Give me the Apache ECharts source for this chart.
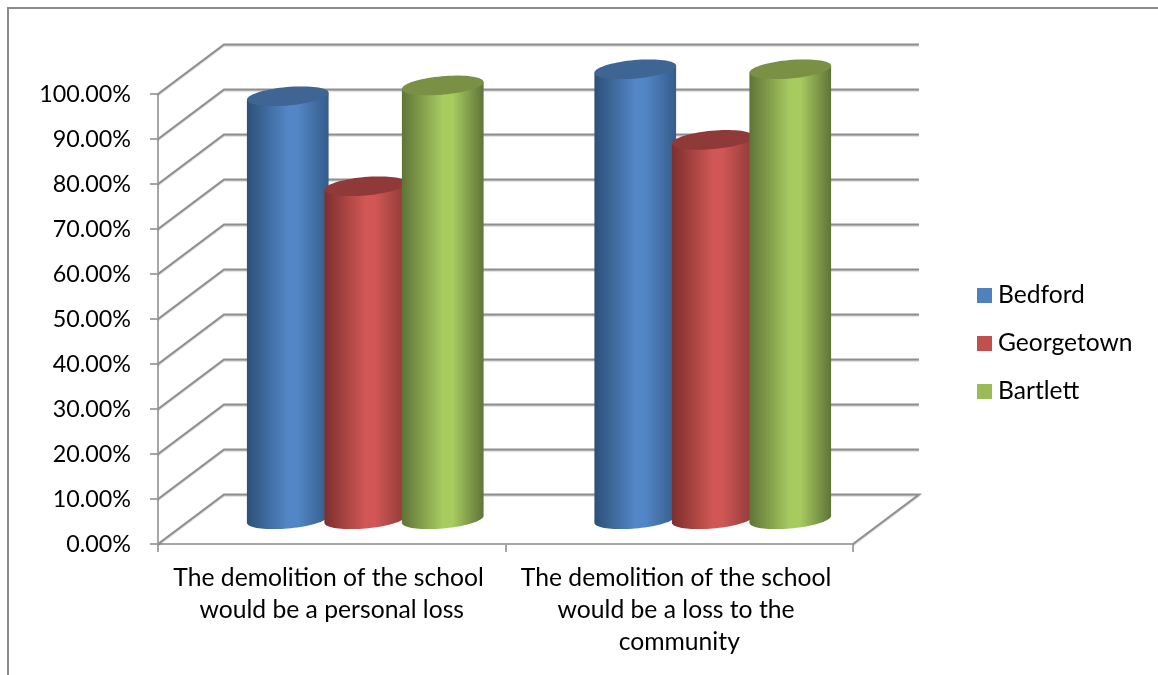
<!DOCTYPE html>
<html>
<head>
<meta charset="utf-8">
<style>
  html, body { margin: 0; padding: 0; background: #fff; }
  #chart { width: 1158px; height: 675px; }
</style>
<script src="https://cdn.jsdelivr.net/npm/echarts@6/dist/echarts.min.js"></script>
</head>
<body>
<div id="chart"></div>
<script>
// Survey responses by town
const categories = [
  'The demolition of the school would be a personal loss',
  'The demolition of the school would be a loss to the community'
];
const bedford = [0.94, 1.0];
const georgetown = [0.74, 0.843];
const bartlett = [0.964, 1.0];
const gridValues = [0, 0.1, 0.2, 0.3, 0.4, 0.5, 0.6, 0.7, 0.8, 0.9, 1.0];

const FONT = 'Lato, "Open Sans", sans-serif';
const LINE = '#8f8f8f';

// Oblique projection: how far the back wall sits from the front plane
const DEPTH_X = 66;
const DEPTH_Y = -49.5;
// Cylinder proportions
const GROUP_STEP = 77.5;
const RX = 41;
const RY = 9.2;
const TILT = 5.1 * Math.PI / 180;

function ellipsePoint(cx, cy, t) {
  const c = Math.cos(t), s = Math.sin(t);
  return [
    cx + RX * c * Math.cos(TILT) + RY * s * Math.sin(TILT),
    cy - RX * c * Math.sin(TILT) + RY * s * Math.cos(TILT)
  ];
}

function shaded(edgeL, mid, edgeR) {
  return new echarts.graphic.LinearGradient(0, 0, 1, 0, [
    { offset: 0, color: edgeL },
    { offset: 0.5, color: mid },
    { offset: 0.62, color: mid },
    { offset: 1, color: edgeR }
  ]);
}

function cylinderRenderer(slot, body, lid) {
  return function (params, api) {
    const front = api.coord([api.value(0), api.value(1)]);
    const base = api.coord([api.value(0), 0]);
    const cx = front[0] + slot * GROUP_STEP + DEPTH_X / 2 + 0.5;
    const topY = front[1] + DEPTH_Y / 2;
    const baseY = base[1] + DEPTH_Y / 2;
    const t0 = Math.atan2(RY * Math.sin(TILT), RX * Math.cos(TILT));

    const outline = [];
    for (let i = 0; i <= 40; i++) {
      outline.push(ellipsePoint(cx, baseY, t0 + Math.PI * i / 40));
    }
    outline.push(ellipsePoint(cx, topY, t0 + Math.PI));
    outline.push(ellipsePoint(cx, topY, t0));

    const cap = [];
    for (let i = 0; i < 72; i++) {
      cap.push(ellipsePoint(cx, topY, Math.PI * 2 * i / 72));
    }
    return {
      type: 'group',
      children: [
        { type: 'polygon', shape: { points: outline }, style: { fill: body } },
        { type: 'polygon', shape: { points: cap }, style: { fill: lid } }
      ]
    };
  };
}

// Side wall, back wall and floor edges for one value level
function wallRenderer(params, api) {
  const value = api.value(0);
  const y = api.coord([0, value])[1];
  const left = params.coordSys.x;
  const right = left + params.coordSys.width;
  const points = [[left, y], [left + DEPTH_X, y + DEPTH_Y], [right + DEPTH_X, y + DEPTH_Y]];
  if (value === 0) points.push([right, y]);
  return {
    type: 'polyline',
    shape: { points: points },
    style: {
      fill: null,
      stroke: LINE,
      lineWidth: 2,
      shadowColor: 'rgba(0,0,0,0.22)',
      shadowBlur: 1,
      shadowOffsetY: 1
    }
  };
}

const chart = echarts.init(document.getElementById('chart'), null, { renderer: 'canvas' });

chart.setOption({
  animation: false,
  backgroundColor: '#ffffff',
  grid: { left: 158, top: 94, width: 695, height: 450, containLabel: false },
  xAxis: {
    type: 'category',
    data: categories,
    axisLine: { lineStyle: { color: '#a6a6a6', width: 2 } },
    axisTick: { show: true, length: 8, lineStyle: { color: '#a6a6a6', width: 2 } },
    axisLabel: {
      interval: 0,
      margin: 18,
      width: 330,
      overflow: 'break',
      lineHeight: 32,
      fontFamily: FONT,
      fontSize: 24.7,
      color: '#000000'
    }
  },
  yAxis: {
    type: 'value',
    min: 0,
    max: 1,
    interval: 0.1,
    splitLine: { show: false },
    axisLine: { show: true, lineStyle: { color: '#a6a6a6', width: 2 } },
    axisTick: { show: true, length: 8, lineStyle: { color: '#a6a6a6', width: 2 } },
    axisLabel: {
      margin: 27,
      fontFamily: FONT,
      fontSize: 23.3,
      color: '#000000',
      formatter: v => (v * 100).toFixed(2) + '%'
    }
  },
  legend: {
    orient: 'vertical',
    left: 977,
    top: 280.5,
    padding: 0,
    itemWidth: 15,
    itemHeight: 15,
    itemGap: 18,
    icon: 'rect',
    data: ['Bedford', 'Georgetown', 'Bartlett'],
    textStyle: { fontFamily: FONT, fontSize: 24.6, lineHeight: 30, color: '#000000', padding: [0, 0, 0, 1] }
  },
  series: [
    {
      name: 'walls',
      type: 'custom',
      silent: true,
      z: 1,
      renderItem: wallRenderer,
      encode: { y: 0 },
      data: gridValues.map(v => [v])
    },
    {
      name: 'Bedford',
      type: 'custom',
      z: 2,
      itemStyle: { color: '#4F81BD' },
      renderItem: cylinderRenderer(-1, shaded('#2D5078', '#5286C6', '#355C8A'), '#3E6594'),
      encode: { x: 0, y: 1 },
      data: bedford.map((v, i) => [i, v])
    },
    {
      name: 'Georgetown',
      type: 'custom',
      z: 3,
      itemStyle: { color: '#C0504D' },
      renderItem: cylinderRenderer(0, shaded('#7C2F2D', '#D05755', '#8E3A38'), '#8F3A38'),
      encode: { x: 0, y: 1 },
      data: georgetown.map((v, i) => [i, v])
    },
    {
      name: 'Bartlett',
      type: 'custom',
      z: 4,
      itemStyle: { color: '#9BBB59' },
      renderItem: cylinderRenderer(1, shaded('#5F7438', '#A8CB60', '#5F7438'), '#7A9145'),
      encode: { x: 0, y: 1 },
      data: bartlett.map((v, i) => [i, v])
    }
  ],
  graphic: [
    {
      type: 'polyline',
      silent: true,
      z: 0,
      shape: { points: [[8, 675], [8, 8], [1158, 8]] },
      style: { fill: null, stroke: '#8c8c8c', lineWidth: 2 }
    }
  ]
});
</script>
</body>
</html>
